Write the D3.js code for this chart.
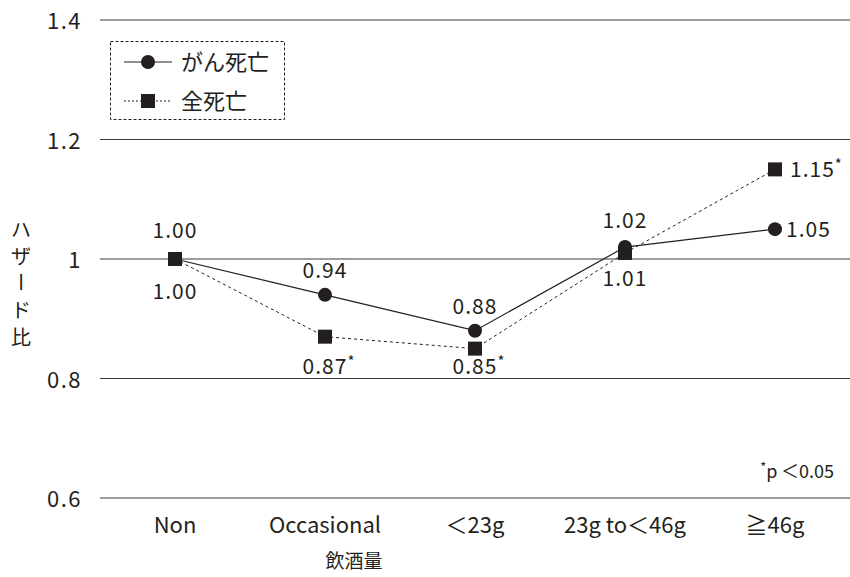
<!DOCTYPE html>
<html>
<head>
<meta charset="utf-8">
<script src="https://cdn.jsdelivr.net/npm/d3@7"></script>
<style>
  html, body { margin: 0; padding: 0; background: #fff; }
  svg { display: block; }
  text { font-family: "Noto Sans CJK JP", "Noto Sans", sans-serif; fill: #231f20; }
</style>
</head>
<body>
<svg id="chart" width="850" height="577"></svg>
<script>
// Drinking amount categories and hazard ratios
const categories = ["Non", "Occasional", "\uFF1C23g", "23g to\uFF1C46g", "\u226746g"];
const cancerDeath = [1.00, 0.94, 0.88, 1.02, 1.05];
const allDeath = [1.00, 0.87, 0.85, 1.01, 1.15];
const allDeathSignificant = [false, true, true, false, true];
const yTicks = [0.6, 0.8, 1.0, 1.2, 1.4];
const yTickLabels = ["0.6", "0.8", "1", "1.2", "1.4"];

const svg = d3.select("#chart");
const ink = "#231f20";

const x = d3.scaleBand().domain(categories).range([100, 850]);
const y = d3.scaleLinear().domain([0.6, 1.4]).range([498, 20]);
const cx = c => x(c) + x.bandwidth() / 2;

// Horizontal gridlines
svg.append("g").selectAll("line").data(yTicks).join("line")
  .attr("x1", 100).attr("x2", 850)
  .attr("y1", d => y(d)).attr("y2", d => y(d))
  .attr("stroke", "#3a3a3a").attr("stroke-width", 1.2);

// Y tick labels
svg.append("g").selectAll("text").data(yTicks).join("text")
  .attr("x", 82).attr("y", d => y(d) + 9)
  .attr("text-anchor", "end")
  .attr("font-size", 22)
  .attr("letter-spacing", 1.5)
  .text((d, i) => yTickLabels[i]);

// X category labels
svg.append("g").selectAll("text").data(categories).join("text")
  .attr("x", d => cx(d)).attr("y", 533)
  .attr("text-anchor", "middle")
  .attr("font-size", 22)
  .text(d => d);

// Axis titles
svg.append("text").attr("x", 354).attr("y", 568)
  .attr("text-anchor", "middle").attr("font-size", 19).text("飲酒量");

// Vertical y-axis title, one character per row; the long-vowel mark is turned upright
const yTitleChars = "ハザード比".split("");
svg.append("g").selectAll("text").data(yTitleChars).join("text")
  .attr("font-size", 20)
  .attr("text-anchor", "middle")
  .attr("dominant-baseline", "central")
  .attr("transform", (d, i) => {
    const cy = 228 + i * 27;
    return d === "ー" ? `translate(21,${cy}) rotate(90)` : `translate(21,${cy})`;
  })
  .text(d => d);

// Lines
const lineGen = d3.line().x((d, i) => cx(categories[i])).y(d => y(d));
svg.append("path").datum(allDeath).attr("d", lineGen)
  .attr("fill", "none").attr("stroke", ink).attr("stroke-width", 1)
  .attr("stroke-dasharray", "3,3");
svg.append("path").datum(cancerDeath).attr("d", lineGen)
  .attr("fill", "none").attr("stroke", ink).attr("stroke-width", 1.2);

// Markers
svg.append("g").selectAll("circle").data(cancerDeath).join("circle")
  .attr("cx", (d, i) => cx(categories[i])).attr("cy", d => y(d))
  .attr("r", 7).attr("fill", ink);
svg.append("g").selectAll("rect").data(allDeath).join("rect")
  .attr("x", (d, i) => cx(categories[i]) - 7).attr("y", d => y(d) - 7)
  .attr("width", 14).attr("height", 14).attr("fill", ink);

// Value labels: cancer death
const fmt = d3.format(".2f");
const cancerLabelPos = [
  { dx: 0, dy: -21, anchor: "middle" },
  { dx: 0, dy: -17, anchor: "middle" },
  { dx: 0, dy: -17, anchor: "middle" },
  { dx: 0, dy: -19, anchor: "middle" },
  { dx: 11, dy: 8, anchor: "start" }
];
svg.append("g").selectAll("text").data(cancerDeath).join("text")
  .attr("x", (d, i) => cx(categories[i]) + cancerLabelPos[i].dx)
  .attr("y", (d, i) => y(d) + cancerLabelPos[i].dy)
  .attr("text-anchor", (d, i) => cancerLabelPos[i].anchor)
  .attr("font-size", 21).attr("letter-spacing", 1)
  .text(d => fmt(d));

// Value labels: all-cause death
const allLabelPos = [
  { dx: 0, dy: 40, anchor: "middle" },
  { dx: 4, dy: 37, anchor: "middle" },
  { dx: 4, dy: 25, anchor: "middle" },
  { dx: 0, dy: 33, anchor: "middle" },
  { dx: 15, dy: 8, anchor: "start" }
];
const allLabels = svg.append("g").selectAll("text").data(allDeath).join("text")
  .attr("x", (d, i) => cx(categories[i]) + allLabelPos[i].dx)
  .attr("y", (d, i) => y(d) + allLabelPos[i].dy)
  .attr("text-anchor", (d, i) => allLabelPos[i].anchor)
  .attr("font-size", 21).attr("letter-spacing", 1);
allLabels.append("tspan").text(d => fmt(d));
allLabels.filter((d, i) => allDeathSignificant[i]).append("tspan")
  .attr("font-size", 15).attr("dy", -7).text("*");

// Significance note
const note = svg.append("text").attr("x", 834).attr("y", 478)
  .attr("text-anchor", "end").attr("font-size", 18);
note.append("tspan").attr("font-size", 13).attr("dy", -6).text("*");
note.append("tspan").attr("dy", 6).text("p\u2009\uFF1C0.05");

// Legend
const legend = svg.append("g");
legend.append("rect").attr("x", 110.5).attr("y", 41.5).attr("width", 174).attr("height", 78)
  .attr("fill", "#fff").attr("stroke", ink).attr("stroke-width", 1)
  .attr("stroke-dasharray", "3,2");
legend.append("line").attr("x1", 124).attr("x2", 172).attr("y1", 62).attr("y2", 62)
  .attr("stroke", ink).attr("stroke-width", 1.2);
legend.append("circle").attr("cx", 148).attr("cy", 62).attr("r", 7).attr("fill", ink);
legend.append("text").attr("x", 181).attr("y", 70).attr("font-size", 22).text("がん死亡");
legend.append("line").attr("x1", 124).attr("x2", 172).attr("y1", 101).attr("y2", 101)
  .attr("stroke", ink).attr("stroke-width", 1).attr("stroke-dasharray", "2,2");
legend.append("rect").attr("x", 141).attr("y", 94).attr("width", 14).attr("height", 14).attr("fill", ink);
legend.append("text").attr("x", 181).attr("y", 109).attr("font-size", 22).text("全死亡");
</script>
</body>
</html>
